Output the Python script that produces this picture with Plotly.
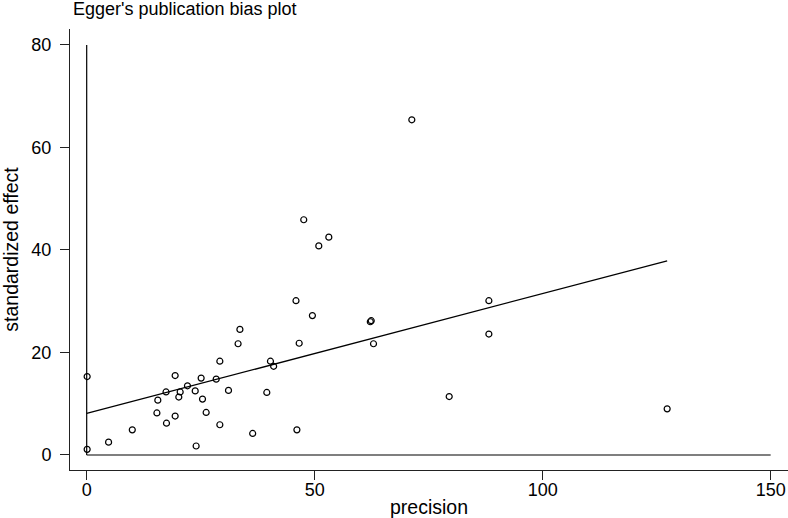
import plotly.graph_objects as go
import numpy as np

# precision (1/se) and standardized effect (effect/se)
precision = [0.1, 0.1, 4.8, 10.0, 15.4, 15.6, 17.4, 17.5, 19.4, 19.4, 20.2, 20.5,
             22.1, 23.8, 24.0, 25.1, 25.4, 26.2, 28.4, 29.2, 29.2, 31.1, 33.2, 33.6,
             36.4, 39.5, 40.3, 41.0, 46.1, 46.6, 45.9, 47.6, 49.5, 50.9, 53.1, 62.2,
             62.4, 62.9, 71.3, 79.5, 88.2, 88.2, 127.3]
std_effect = [15.3, 1.1, 2.5, 4.9, 8.2, 10.7, 12.3, 6.2, 15.5, 7.6, 11.3, 12.3,
              13.5, 12.5, 1.75, 15.0, 10.9, 8.3, 14.8, 18.3, 5.9, 12.6, 21.7, 24.5,
              4.2, 12.2, 18.3, 17.3, 4.9, 21.8, 30.1, 45.9, 27.2, 40.8, 42.5, 26.0,
              26.2, 21.7, 65.4, 11.4, 30.1, 23.6, 9.0]

# Egger regression line (intercept / slope)
egger_intercept = 8.1
egger_slope = 0.234

# reference lines drawn by the egger plot
ref_x_max = 150
ref_y_max = 80

x_ticks = [0, 50, 100, 150]
y_ticks = [0, 20, 40, 60, 80]

fnt = "Liberation Sans, Arial, Helvetica, sans-serif"

fig = go.Figure()

# axes of the egger plot: x=0 vertical, y=0 horizontal
fig.add_trace(go.Scatter(x=[0, 0], y=[0, ref_y_max], mode='lines',
                         line=dict(color='black', width=1.2), hoverinfo='skip'))
fig.add_trace(go.Scatter(x=[0, ref_x_max], y=[0, 0], mode='lines',
                         line=dict(color='black', width=1.2), hoverinfo='skip'))

# studies
fig.add_trace(go.Scatter(x=precision, y=std_effect, mode='markers',
                         marker=dict(symbol='circle-open', size=6, color='black',
                                     line=dict(color='black', width=1.2))))

# regression line
xl = np.array([0, max(precision)])
fig.add_trace(go.Scatter(x=xl, y=egger_intercept + egger_slope * xl, mode='lines',
                         line=dict(color='black', width=1.3)))

fig.update_layout(
    width=788, height=518,
    margin=dict(l=70, r=0, t=29, b=48),
    paper_bgcolor='white', plot_bgcolor='white',
    showlegend=False,
    font=dict(family=fnt, size=18, color='black'),
    title=dict(text="Egger's publication bias plot", x=73 / 788, xanchor='left',
               xref='container', yref='container', y=1 - 8.5 / 518, yanchor='middle',
               font=dict(size=18, color='black', family=fnt)),
    xaxis=dict(
        range=[-3.66, 153.8],
        tickvals=x_ticks,
        ticks='outside', ticklen=9, tickwidth=1, tickcolor='#222',
        ticklabelstandoff=-6,
        showline=True, linecolor='#222', linewidth=1,
        showgrid=False, zeroline=False,
        title=dict(text='precision', standoff=9, font=dict(size=19.5)),
        automargin=False,
    ),
    yaxis=dict(
        range=[-2.93, 83.12],
        tickvals=y_ticks,
        ticks='outside', ticklen=9, tickwidth=1, tickcolor='#222',
        ticklabelstandoff=5,
        showline=True, linecolor='#222', linewidth=1,
        showgrid=False, zeroline=False,
        title=dict(text='standardized effect', standoff=9, font=dict(size=19.5)),
        automargin=False,
    ),
)

# drop the page's default body margin so the figure sits at the window corner
fig.write_html("out.html", config={'displayModeBar': False},
               post_script="document.body.style.margin='0';")
